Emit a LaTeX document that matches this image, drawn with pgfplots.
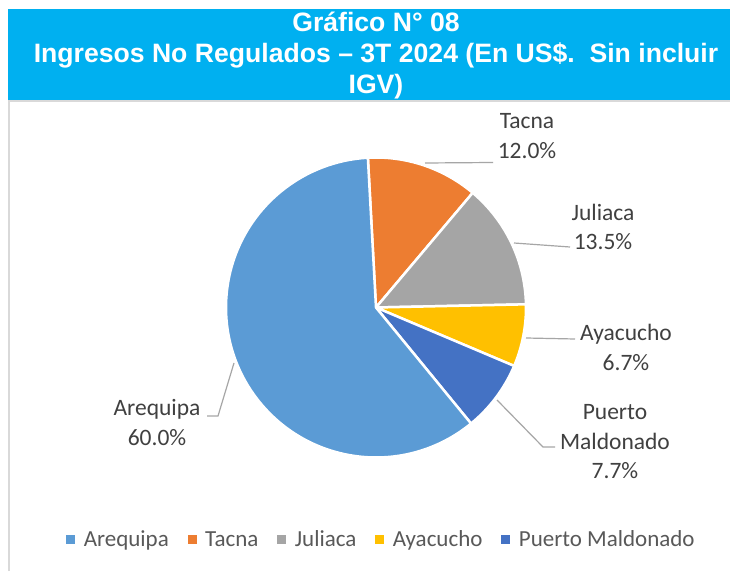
\documentclass[border=0pt]{standalone}
\usepackage{pgfplots}
\pgfplotsset{compat=1.18}
\usepackage{pgfplotstable}
\usepackage{fontspec}
\setmainfont{Carlito}
\newfontfamily\titlefont{Liberation Sans}
\definecolor{slice0}{HTML}{5B9BD5}
\definecolor{slice1}{HTML}{ED7D31}
\definecolor{slice2}{HTML}{A5A5A5}
\definecolor{slice3}{HTML}{FFC000}
\definecolor{slice4}{HTML}{4472C4}
\definecolor{titlebg}{HTML}{00B0F0}
\definecolor{lbl}{HTML}{404040}
\definecolor{leg}{HTML}{595959}
\definecolor{leader}{HTML}{A6A6A6}
\definecolor{framec}{HTML}{D9D9D9}

\pgfplotstableread{
region value
Arequipa 60.0
Tacna 12.0
Juliaca 13.5
Ayacucho 6.7
Puerto 7.7
}\piedata

\begin{document}
\begin{tikzpicture}
\useasboundingbox (0,0) rectangle (734pt,571pt);
\begin{axis}[
  at={(0,0)}, anchor=south west,
  x=1pt, y=1pt,
  xmin=0, xmax=734, ymin=0, ymax=571,
  hide axis, clip=false,
  legend columns=5,
  legend image code/.code={\fill[#1] (0pt,0pt) rectangle (8pt,8pt);},
  legend style={draw=none, fill=none, at={(axis cs:381,29)}, anchor=center,
    font=\fontsize{23}{27}\selectfont, text=leg,
    /tikz/every odd column/.append style={column sep=8pt},
    /tikz/every even column/.append style={column sep=18pt, text height=0.72em, text depth=0.22em},
    inner sep=0pt, nodes={inner sep=1pt}},
]
% frame and title box
\fill[white] (axis cs:8,0) rectangle (axis cs:734,470);
\draw[framec, line width=1.5pt] (axis cs:8.75,0) -- (axis cs:8.75,470);
\fill[titlebg] (axis cs:8,471) rectangle (axis cs:730,562);
\draw[framec, line width=2pt] (axis cs:8,470) -- (axis cs:730,470);
\node[font=\titlefont\bfseries\fontsize{26.6}{31}\selectfont, text=white, align=center]
  at (axis cs:376,515) {Gráfico N° 08\\Ingresos No Regulados – 3T 2024 (En US\$.\ \ Sin incluir\\IGV)};

% pie slices (clockwise from Tacna)
\def\angA{93.1}
\pgfplotsforeachungrouped \i in {1,2,3,4,0} {%
  \pgfplotstablegetelem{\i}{value}\of\piedata
  \pgfmathsetmacro{\spanang}{\pgfplotsretval/99.9*360}%
  \pgfmathsetmacro{\angB}{\angA-\spanang}%
  \edef\temp{\noexpand\fill[fill=slice\i, draw=white, line width=2.5pt, line join=round]
    (axis cs:376,263.5) -- ++(\angA:150pt) arc[start angle=\angA, end angle=\angB, radius=150pt] -- cycle;}%
  \temp
  \let\angA\angB
}

% leader lines
\draw[leader, line width=1.2pt] (axis cs:425,408) -- (axis cs:493,408.5);
\draw[leader, line width=1.2pt] (axis cs:514,328) -- (axis cs:570,324);
\draw[leader, line width=1.2pt] (axis cs:526,233) -- (axis cs:575,232);
\draw[leader, line width=1.2pt] (axis cs:497,171) -- (axis cs:543,124) -- (axis cs:555,124);
\draw[leader, line width=1.2pt] (axis cs:234,208) -- (axis cs:218,155) -- (axis cs:207,155);

% data labels
\tikzset{dl/.style={font=\fontsize{23.5}{29.5}\selectfont, text=lbl, align=center, inner sep=0pt}}
\node[dl] at (axis cs:527,435) {Tacna\\12.0\%};
\node[dl] at (axis cs:603,344) {Juliaca\\13.5\%};
\node[dl] at (axis cs:626,223.5) {Ayacucho\\6.7\%};
\node[dl] at (axis cs:615,129) {Puerto\\Maldonado\\7.7\%};
\node[dl] at (axis cs:157,148.5) {Arequipa\\60.0\%};

% legend
\addlegendimage{slice0}\addlegendentry{Arequipa}
\addlegendimage{slice1}\addlegendentry{Tacna}
\addlegendimage{slice2}\addlegendentry{Juliaca}
\addlegendimage{slice3}\addlegendentry{Ayacucho}
\addlegendimage{slice4}\addlegendentry{Puerto Maldonado}
\end{axis}
\end{tikzpicture}
\end{document}
